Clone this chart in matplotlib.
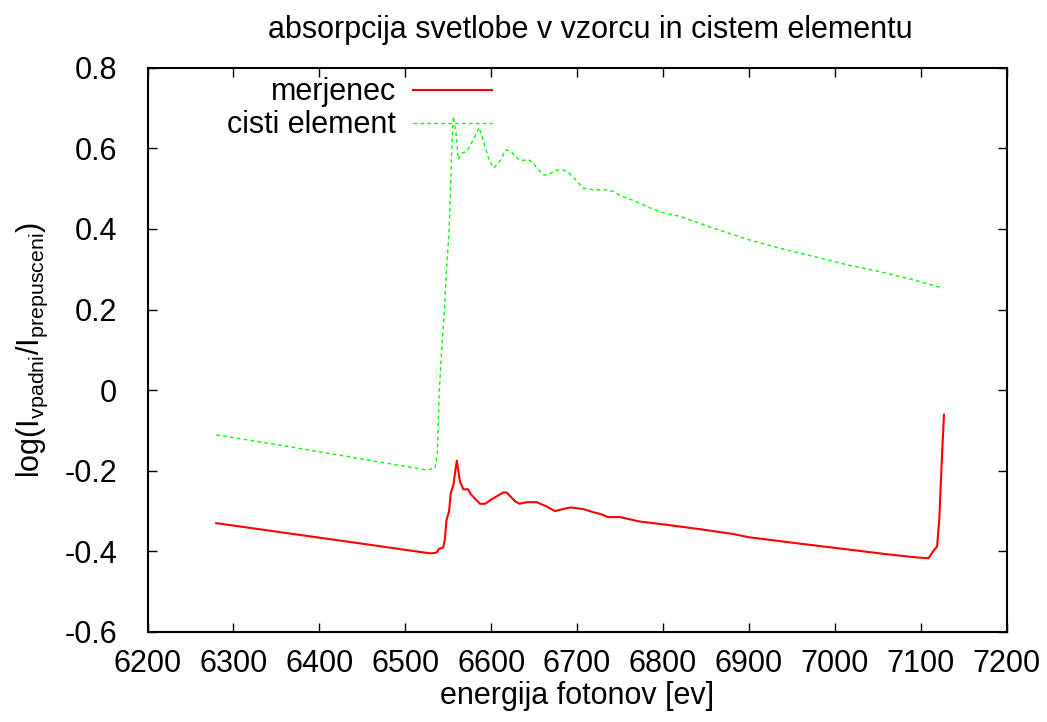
import matplotlib
matplotlib.use("Agg")
import matplotlib.pyplot as plt

plt.rcParams['font.family'] = ['Liberation Sans', 'DejaVu Sans']
plt.rcParams['mathtext.fontset'] = 'custom'
plt.rcParams['mathtext.rm'] = 'Liberation Sans'

# measured sample (red)
merjenec_e = [6280, 6350, 6450, 6529, 6534, 6537, 6539, 6544, 6546, 6548, 6551, 6553,
              6556, 6560, 6563.7, 6567.6, 6573, 6577, 6587, 6593, 6601, 6606, 6614,
              6618, 6628, 6633, 6641, 6653, 6665, 6674, 6680, 6692, 6707, 6719, 6727,
              6736, 6750, 6773, 6804, 6843, 6882, 6900, 6960, 7018, 7060, 7095, 7109,
              7115, 7119, 7121.5, 7123.5, 7125, 7127]
merjenec_v = [-0.330, -0.351, -0.381, -0.405, -0.404, -0.402, -0.394, -0.391, -0.372,
              -0.322, -0.300, -0.255, -0.235, -0.175, -0.227, -0.246, -0.246, -0.260,
              -0.282, -0.282, -0.270, -0.264, -0.254, -0.254, -0.276, -0.282, -0.278,
              -0.278, -0.289, -0.300, -0.297, -0.291, -0.295, -0.303, -0.307, -0.315,
              -0.315, -0.326, -0.334, -0.345, -0.357, -0.365, -0.381, -0.396, -0.407,
              -0.415, -0.417, -0.398, -0.388, -0.322, -0.223, -0.150, -0.061]

# pure element (green)
cisti_e = [6280, 6350, 6450, 6525, 6534.6, 6537.3, 6539.6, 6542.4, 6545.1, 6548.2,
           6550.9, 6552.9, 6554.1, 6555.9, 6559.1, 6561.7, 6565.7, 6571.5, 6579, 6586,
           6591, 6598, 6603, 6610, 6617, 6623, 6630, 6635.5, 6643, 6649, 6655, 6661,
           6666.5, 6674, 6683, 6690, 6697.5, 6707, 6719, 6734.5, 6742, 6752, 6765, 6783,
           6800, 6820, 6858.5, 6897, 6936, 6975, 7014, 7052.5, 7091, 7126]
cisti_v = [-0.111, -0.135, -0.171, -0.198, -0.194, -0.156, 0.000, 0.100, 0.183, 0.307,
           0.390, 0.514, 0.596, 0.679, 0.638, 0.572, 0.588, 0.592, 0.621, 0.652,
           0.617, 0.568, 0.551, 0.568, 0.596, 0.592, 0.576, 0.569, 0.573, 0.563, 0.547,
           0.534, 0.534, 0.545, 0.547, 0.540, 0.524, 0.501, 0.497, 0.497, 0.493, 0.481,
           0.471, 0.454, 0.440, 0.431, 0.402, 0.375, 0.352, 0.332, 0.311, 0.294, 0.274,
           0.253]

x_ticks = [6200, 6300, 6400, 6500, 6600, 6700, 6800, 6900, 7000, 7100, 7200]
y_ticks = [-0.6, -0.4, -0.2, 0, 0.2, 0.4, 0.6, 0.8]
y_labels = ['-0.6', '-0.4', '-0.2', '0', '0.2', '0.4', '0.6', '0.8']

fs = 22

fig = plt.figure(figsize=(10.47, 7.22), dpi=100)
ax = fig.add_subplot(111)
fig.subplots_adjust(left=0.1409, right=0.9615, top=0.9062, bottom=0.1247)

ax.plot(merjenec_e, merjenec_v, color='#ff0000', lw=1.5, label='merjenec')
ax.plot(cisti_e, cisti_v, color='#00ff00', lw=1.0, linestyle=(0, (2.6, 2.4)),
        label='cisti element')

ax.set_xlim(6200, 7200)
ax.set_ylim(-0.6, 0.8)
ax.set_xticks(x_ticks)
ax.set_yticks(y_ticks)
ax.set_yticklabels(y_labels)
ax.tick_params(direction='in', length=6.5, width=1.0, top=True, right=True,
               labelsize=fs)
ax.tick_params(axis='y', pad=22)
ax.tick_params(axis='x', pad=12)
for s in ax.spines.values():
    s.set_linewidth(1.5)

ax.set_xlabel('energija fotonov [ev]', fontsize=fs, labelpad=2)
ax.set_ylabel(r'log(I$_{\rm vpadni}$/I$_{\rm prepusceni}$)', fontsize=fs, labelpad=10)
fig.text(0.5635, 0.948, 'absorpcija svetlobe v vzorcu in cistem elementu',
         fontsize=fs, ha='center', va='baseline')

ax.legend(loc='upper right', bbox_to_anchor=(0.401, 0.983), markerfirst=False,
          frameon=False, fontsize=fs, handlelength=2.6, handletextpad=0.55,
          labelspacing=0.1, borderaxespad=0, borderpad=0)

fig.savefig('out.png', dpi=100)
